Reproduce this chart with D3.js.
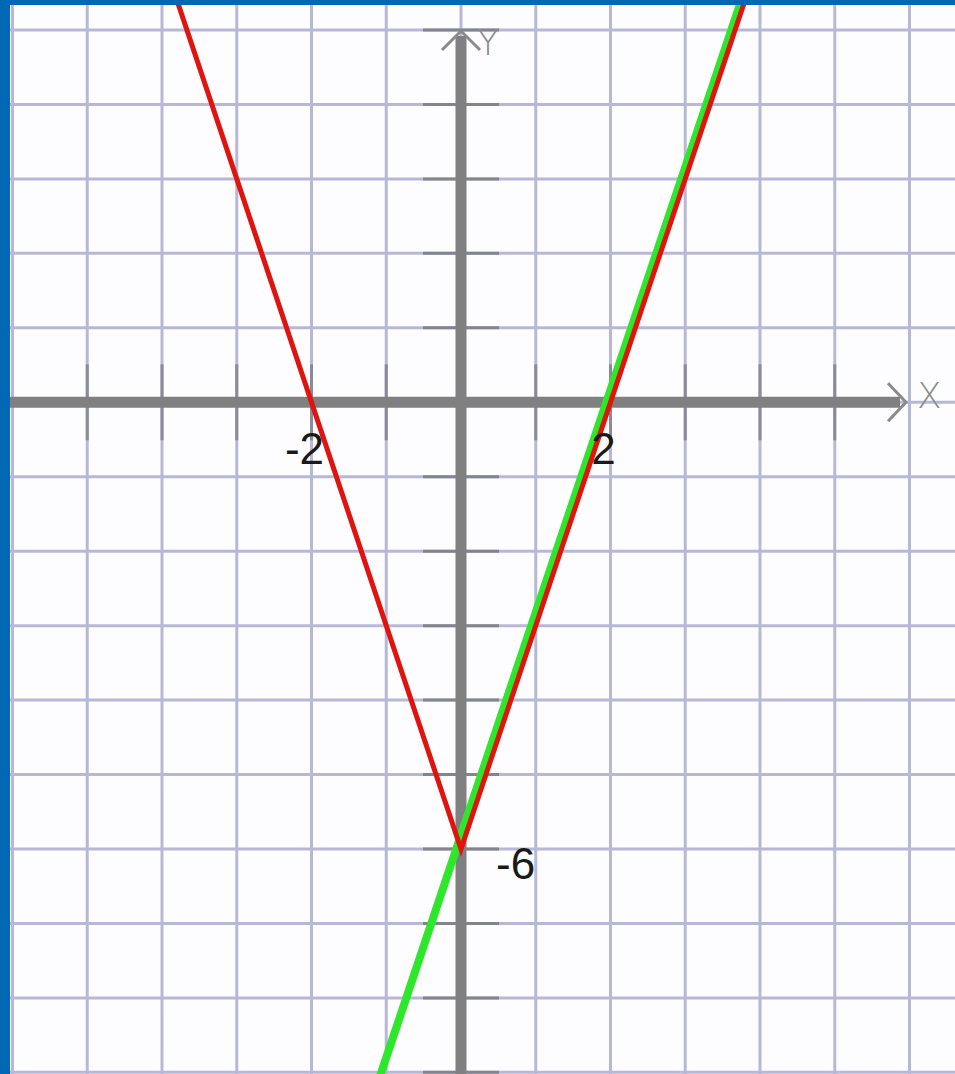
<!DOCTYPE html>
<html>
<head>
<meta charset="utf-8">
<script src="https://cdn.jsdelivr.net/npm/d3@7"></script>
<style>
  html, body { margin: 0; padding: 0; background: #0068b4; }
  .chart { width: 955px; height: 1074px; }
</style>
</head>
<body>
<div class="chart"></div>
<script>
// grid values (units on each axis)
const gridX = [-6, -5, -4, -3, -2, -1, 0, 1, 2, 3, 4, 5, 6];
const gridY = [5, 4, 3, 2, 1, 0, -1, -2, -3, -4, -5, -6, -7, -8, -9];
const xLabels = [-2, 2];
const yLabels = [-6];

// green line y = 3x - 6, red broken line y = 3|x| - 6
const greenPts = [[-1.1, -9.1], [3.75, 5.4]];
const redPts = [[-3.8, 5.4], [0, -6], [3.8, 5.4]];

const width = d3.select('.chart').node().clientWidth;
const height = d3.select('.chart').node().clientHeight;

const svg = d3.select('.chart')
    .append('svg')
    .attr('width', width)
    .attr('height', height);

const x = d3.scaleLinear().domain([-6, 6]).range([12.5, 909.5]);
const y = d3.scaleLinear().domain([5, -6]).range([30, 849]);

// white paper inside the blue frame
svg.append('rect')
    .attr('x', 10).attr('y', 5)
    .attr('width', width - 10).attr('height', height - 5)
    .attr('fill', '#fdfdff');

svg.append('clipPath').attr('id', 'paper')
    .append('rect')
    .attr('x', 10).attr('y', 5)
    .attr('width', width - 10).attr('height', height - 5);

const g = svg.append('g').attr('clip-path', 'url(#paper)');

// grid
gridX.forEach(v => {
    g.append('line')
        .attr('x1', x(v)).attr('x2', x(v))
        .attr('y1', 0).attr('y2', height)
        .attr('stroke', '#b8b8d6')
        .attr('stroke-width', 3);
});
gridY.forEach(v => {
    g.append('line')
        .attr('x1', 0).attr('x2', width)
        .attr('y1', y(v)).attr('y2', y(v))
        .attr('stroke', '#b8b8d6')
        .attr('stroke-width', 3);
});

// darker tick segments near the axes
const tickLen = 38;
gridX.filter(v => v !== 0 && Math.abs(v) < 6).forEach(v => {
    g.append('line')
        .attr('x1', x(v)).attr('x2', x(v))
        .attr('y1', y(0) - tickLen).attr('y2', y(0) + tickLen)
        .attr('stroke', '#8a8a98')
        .attr('stroke-width', 3);
});
gridY.filter(v => v !== 0).forEach(v => {
    g.append('line')
        .attr('x1', x(0) - tickLen).attr('x2', x(0) + tickLen)
        .attr('y1', y(v)).attr('y2', y(v))
        .attr('stroke', '#84848e')
        .attr('stroke-width', 3);
});

// axes
const axisColor = '#808080';
g.append('line')
    .attr('x1', 10).attr('x2', 900)
    .attr('y1', y(0)).attr('y2', y(0))
    .attr('stroke', axisColor).attr('stroke-width', 11);
g.append('line')
    .attr('x1', x(0)).attr('x2', x(0))
    .attr('y1', 36).attr('y2', height)
    .attr('stroke', axisColor).attr('stroke-width', 11);

// arrow heads
g.append('path')
    .attr('d', `M${888},${y(0) - 19} L${906},${y(0)} L${888},${y(0) + 19}`)
    .attr('fill', 'none').attr('stroke', '#8a8a8a').attr('stroke-width', 3);
g.append('path')
    .attr('d', `M${x(0) - 19},${50} L${x(0)},${31} L${x(0) + 19},${50}`)
    .attr('fill', 'none').attr('stroke', '#8a8a8a').attr('stroke-width', 3);

// axis names
svg.append('text')
    .text('X')
    .attr('x', 917).attr('y', 408)
    .attr('font-family', 'DejaVu Sans')
    .attr('font-weight', 200)
    .attr('font-size', 36)
    .attr('fill', '#8c8c8c');
svg.append('text')
    .text('Y')
    .attr('x', 477).attr('y', 55)
    .attr('font-family', 'DejaVu Sans')
    .attr('font-weight', 200)
    .attr('font-size', 36)
    .attr('fill', '#8c8c8c');

// functions
const line = d3.line().x(d => x(d[0])).y(d => y(d[1]));

g.append('path')
    .datum(greenPts)
    .attr('d', line)
    .attr('fill', 'none')
    .attr('stroke', '#2ee62a')
    .attr('stroke-width', 8);

g.append('path')
    .datum(redPts)
    .attr('d', line)
    .attr('fill', 'none')
    .attr('stroke', '#e0140f')
    .attr('stroke-linejoin', 'miter')
    .attr('stroke-width', 5);

// tick labels
xLabels.forEach(v => {
    svg.append('text')
        .text(v)
        .attr('x', x(v) - 7)
        .attr('y', 464)
        .attr('text-anchor', 'middle')
        .attr('font-family', 'Liberation Sans')
        .attr('font-size', 44)
        .attr('fill', '#1a1a1a');
});
yLabels.forEach(v => {
    svg.append('text')
        .text(v)
        .attr('x', x(0) + 35)
        .attr('y', y(v) + 30)
        .attr('font-family', 'Liberation Sans')
        .attr('font-size', 44)
        .attr('fill', '#1a1a1a');
});
</script>
</body>
</html>
